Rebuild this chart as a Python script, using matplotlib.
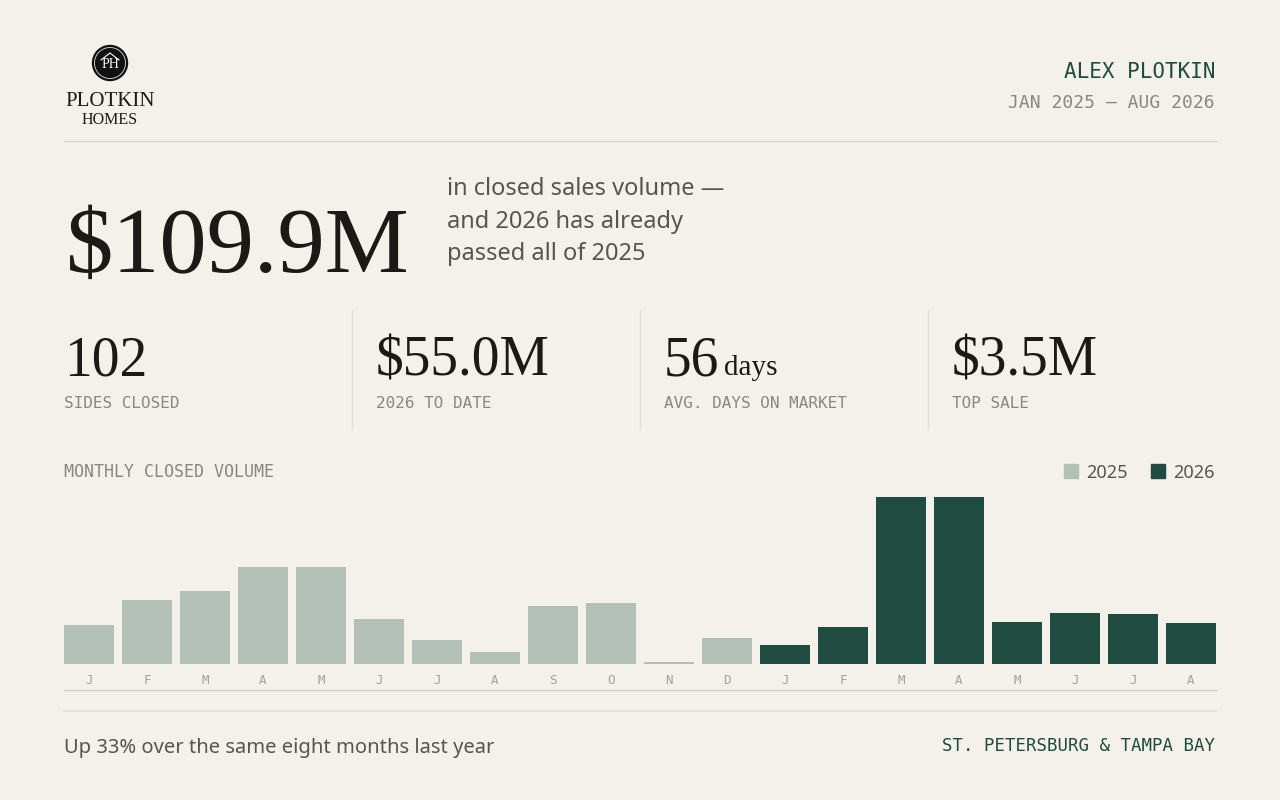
import numpy as np
import matplotlib.pyplot as plt
from matplotlib.patches import Circle, Rectangle
from matplotlib.lines import Line2D

# monthly closed volume, $M
months_2025 = ['J', 'F', 'M', 'A', 'M', 'J', 'J', 'A', 'S', 'O', 'N', 'D']
vol_2025 = [3.6, 5.9, 6.8, 9.0, 9.0, 4.2, 2.2, 1.1, 5.4, 5.7, 0.2, 2.4]
months_2026 = ['J', 'F', 'M', 'A', 'M', 'J', 'J', 'A']
vol_2026 = [1.8, 3.4, 15.5, 15.5, 3.9, 4.7, 4.65, 3.8]

stat_values = ['102', '$55.0M', '56', '$3.5M']
stat_labels = ['SIDES CLOSED', '2026 TO DATE', 'AVG. DAYS ON MARKET', 'TOP SALE']

BG = '#F4F1EA'
INK = '#1B1A17'
GREEN = '#1F4B40'
SAGE = '#B3C0B7'
GREY = '#8A8780'
TXT = '#57554F'
RULE = '#D9D6CE'

SERIF = 'Liberation Serif'
SANS = 'Noto Sans'
MONO = 'DejaVu Sans Mono'

W, H = 1280, 800
fig = plt.figure(figsize=(12.8, 8), dpi=100, facecolor=BG)


def fx(x):
    return x / W


def fy(y):
    return 1 - y / H


def txt(x, y, s, **kw):
    kw.setdefault('va', 'baseline')
    fig.text(fx(x), fy(y), s, **kw)


def hline(y, x0=64, x1=1216, color=RULE, lw=1.0):
    fig.add_artist(Line2D([fx(x0), fx(x1)], [fy(y), fy(y)], color=color, lw=lw,
                          transform=fig.transFigure))


def vline(x, y0, y1, color='#E2DFD7', lw=1.0):
    fig.add_artist(Line2D([fx(x), fx(x)], [fy(y0), fy(y1)], color=color, lw=lw,
                          transform=fig.transFigure))


# logo
ax_logo = fig.add_axes([fx(90), fy(83), 40 / W, 40 / H])
ax_logo.set_xlim(-20, 20)
ax_logo.set_ylim(-20, 20)
ax_logo.set_aspect('equal')
ax_logo.axis('off')
ax_logo.add_patch(Circle((0, 0), 17.5, color='#111111'))
ax_logo.add_patch(Circle((0, 0), 15.5, fill=False, ec='#DDDDDD', lw=0.6))
ax_logo.plot([-9, 0, 9], [3, 10, 3], color='white', lw=0.8)
ax_logo.text(0, -1, 'PH', color='white', ha='center', va='center',
             family=SERIF, fontsize=10)
txt(110, 106, 'PLOTKIN', ha='center', family=SERIF, fontsize=15, color=INK)
txt(110, 124, 'HOMES', ha='center', family=SERIF, fontsize=11.5, color=INK)

# header right
txt(1215, 78, 'ALEX PLOTKIN', ha='right', family=MONO, fontsize=15, color=GREEN)
txt(1215, 108, 'JAN 2025 – AUG 2026', ha='right', family=MONO, fontsize=13, color=GREY)
hline(141)

# headline
txt(66, 272, '$109.9M', family=SERIF, fontsize=68, color=INK)
para = ['in closed sales volume —', 'and 2026 has already', 'passed all of 2025']
for i, line in enumerate(para):
    txt(447, 195 + i * 32.5, line, family=SANS, fontsize=17, color=TXT)

# stat row
stat_x = [64, 376, 664, 952]
for i, (v, lab) in enumerate(zip(stat_values, stat_labels)):
    txt(stat_x[i], 375, v, family=SERIF, fontsize=40, color=INK)
    txt(stat_x[i], 408, lab, family=MONO, fontsize=11.5, color=GREY)
txt(724, 375, 'days', family=SERIF, fontsize=21, color=INK)
for x in [352, 640, 928]:
    vline(x, 310, 430)

# chart header + legend
txt(64, 477, 'MONTHLY CLOSED VOLUME', family=MONO, fontsize=12, color=GREY)
fig.add_artist(Rectangle((fx(1064), fy(478)), 14 / W, 14 / H, color=SAGE,
                         transform=fig.transFigure))
txt(1086, 478, '2025', family=SANS, fontsize=13, color=TXT)
fig.add_artist(Rectangle((fx(1151), fy(478)), 14 / W, 14 / H, color=GREEN,
                         transform=fig.transFigure))
txt(1173, 478, '2026', family=SANS, fontsize=13, color=TXT)

# bars
labels = months_2025 + months_2026
values = vol_2025 + vol_2026
colors = [SAGE] * len(vol_2025) + [GREEN] * len(vol_2026)
x = np.arange(len(values))
bw = 50 / 58

ax = fig.add_axes([fx(64), fy(664), 1152 / W, 167 / H])
ax.set_facecolor('none')
ax.bar(x, values, width=bw, color=colors)
ax.set_xlim(-bw / 2, len(values) - 1 + bw / 2)
ax.set_ylim(0, max(values))
ax.set_xticks(x)
ax.set_xticklabels(labels, family=MONO, fontsize=9, color='#A3A09A')
ax.tick_params(axis='x', length=0, pad=7)
ax.set_yticks([])
for s in ax.spines.values():
    s.set_visible(False)

hline(690, color='#D5D2CA')
hline(711, color='#E3E0D8', lw=1.5)

# footer
txt(64, 753, 'Up 33% over the same eight months last year', family=SANS,
    fontsize=14.5, color=TXT)
txt(1215, 751, 'ST. PETERSBURG & TAMPA BAY', ha='right', family=MONO,
    fontsize=12.5, color=GREEN)

fig.savefig('out.png', dpi=100, facecolor=BG)
